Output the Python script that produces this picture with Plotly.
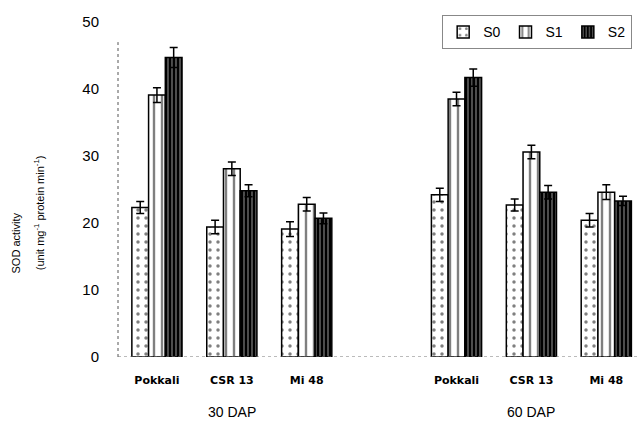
import plotly.graph_objects as go

cultivars = ["Pokkali", "CSR 13", "Mi 48"]
stages = ["30 DAP", "60 DAP"]
series = ["S0", "S1", "S2"]

# values per series: 30 DAP (Pokkali, CSR 13, Mi 48) then 60 DAP
s0 = [22.3, 19.4, 19.1, 24.2, 22.7, 20.4]
s1 = [39.1, 28.1, 22.8, 38.5, 30.6, 24.6]
s2 = [44.7, 24.8, 20.7, 41.7, 24.6, 23.3]
s0_err = [0.9, 1.0, 1.1, 1.0, 0.9, 1.0]
s1_err = [1.1, 1.0, 1.0, 1.0, 1.0, 1.1]
s2_err = [1.5, 0.9, 0.8, 1.3, 1.0, 0.7]

# positions: groups per stage with an empty slot between stages
xpos = [i + 4 * j for j in range(len(stages)) for i in range(len(cultivars))]
ticktext = ["<b>%s</b>" % c for c in cultivars] * len(stages)

styles = {
    "S0": dict(color="white", pattern=dict(shape=".", fgcolor="black", bgcolor="white", size=8, solidity=0.15)),
    "S1": dict(color="white", pattern=dict(shape="|", fgcolor="black", bgcolor="white", size=8, solidity=0.3)),
    "S2": dict(color="black", pattern=dict(shape="|", fgcolor="white", bgcolor="black", size=4, solidity=0.3)),
}

fig = go.Figure()
for name, vals, errs in [("S0", s0, s0_err), ("S1", s1, s1_err), ("S2", s2, s2_err)]:
    st = styles[name]
    fig.add_trace(go.Bar(
        x=xpos, y=vals, name=name,
        marker=dict(color=st["color"], line=dict(color="black", width=1.5),
                    pattern=st["pattern"]),
        error_y=dict(type="data", array=errs, color="black", thickness=1.5, width=4),
    ))

for j, stg in enumerate(stages):
    fig.add_annotation(x=1 + 4 * j, y=-0.195, xref="x", yref="paper",
                       text=stg, showarrow=False,
                       font=dict(family="Arial, Liberation Sans", size=14, color="black"))

# y-axis title as two rotated lines
fig.add_annotation(x=-0.21, y=0.34, xref="paper", yref="paper", text="SOD activity",
                   textangle=-90, showarrow=False, font=dict(size=11, color="black"))
fig.add_annotation(x=-0.168, y=0.43, xref="paper", yref="paper",
                   text="(unit mg<sup>-1</sup> protein min<sup>-1</sup>)",
                   textangle=-90, showarrow=False, font=dict(size=11, color="black"))

fig.add_shape(type="line", xref="paper", yref="y", x0=0, x1=0, y0=0, y1=47,
              line=dict(color="#555", width=1, dash="dot"))
fig.add_shape(type="line", xref="paper", yref="y", x0=0, x1=1, y0=0, y1=0,
              line=dict(color="#777", width=1, dash="dot"))

fig.update_layout(
    width=640, height=422,
    margin=dict(l=118, r=0, t=22, b=65),
    paper_bgcolor="white", plot_bgcolor="white",
    barmode="group", bargap=0.33, bargroupgap=0,
    font=dict(family="Arial, Liberation Sans", color="black"),
    xaxis=dict(range=[-0.52, 6.45], tickmode="array", tickvals=xpos, ticktext=ticktext,
               showgrid=False, zeroline=False, showline=False, ticks="",
               ticklabelstandoff=15,
               tickfont=dict(family="DejaVu Sans", size=11, color="black")),
    yaxis=dict(range=[0, 50], tickvals=[0, 10, 20, 30, 40, 50],
               showgrid=False, zeroline=False, showline=False, ticks="",
               ticklabelstandoff=18,
               tickfont=dict(family="Arial, Liberation Sans", size=15, color="black")),
    legend=dict(orientation="h", x=0.985, xanchor="right", y=1.02, yanchor="top",
                bordercolor="#888", borderwidth=1, bgcolor="white",
                font=dict(size=14), itemwidth=30, traceorder="normal"),
)

fig.write_html("out.html", config={"displayModeBar": False},
               post_script="document.body.style.margin='0';")
